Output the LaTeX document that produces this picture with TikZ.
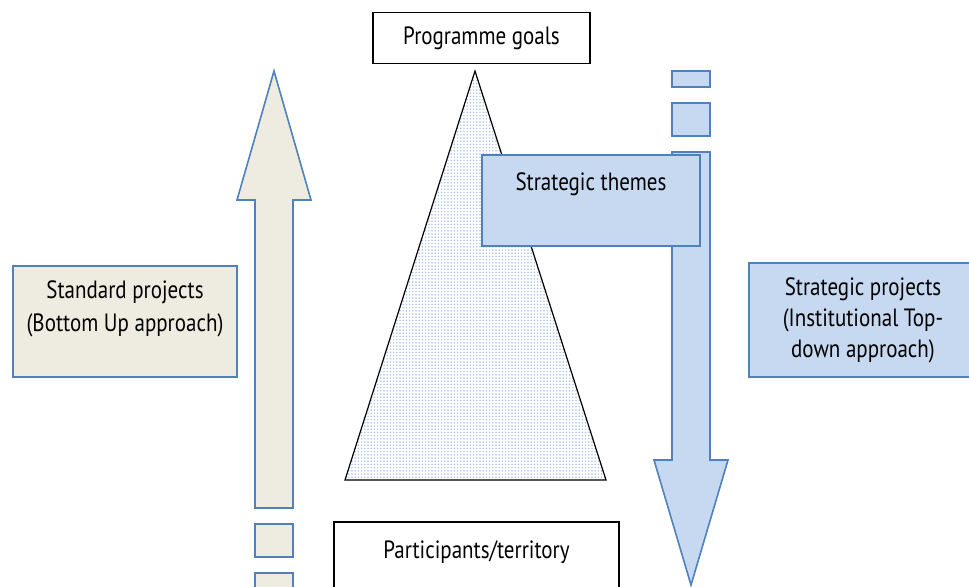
\documentclass[tikz,border=0pt]{standalone}
\usepackage{fontspec}
\setmainfont[FakeStretch=0.84]{PT Sans}
\usetikzlibrary{patterns.meta}
\definecolor{edgeblue}{HTML}{4F81BD}
\definecolor{paleblue}{HTML}{C6D9F1}
\definecolor{beige}{HTML}{EEECE1}
\definecolor{dotblue}{HTML}{A9C0E3}
\tikzset{
	whitebox/.style={draw=black, fill=white, line width=0.8pt, inner sep=0pt},
	bluebox/.style={draw=edgeblue, fill=paleblue, line width=0.8pt, inner sep=0pt},
	beigebox/.style={draw=edgeblue, fill=beige, line width=0.8pt, inner sep=0pt},
	txt/.style={align=center, inner sep=0pt, font=\fontsize{12.5}{16.5}\selectfont}
}

\begin{document}
\begin{tikzpicture}[x=0.5pt,y=-0.5pt]
        \clip (0,0) rectangle (969,586);
        % up arrow and its squares
        \draw[beigebox] (274,71) -- (311,200) -- (293,200) -- (293,508) -- (255,508) -- (255,200) -- (237,200) -- cycle;
        \draw[beigebox] (255,524) rectangle (293,557);
        \draw[beigebox] (255,573) rectangle (293,610);
        % down arrow and its squares
        \draw[bluebox] (672,71) rectangle (710,87);
        \draw[bluebox] (672,103) rectangle (710,136);
        \draw[bluebox] (672,152) -- (710,152) -- (710,460) -- (728,460) -- (691,585) -- (654,460) -- (672,460) -- cycle;
        % triangle
        \draw[line width=0.6pt, preaction={fill=white}, pattern={Dots[radius=0.42pt, distance=1.6pt]}, pattern color=dotblue]
        (475,71) -- (606,480) -- (345,480) -- cycle;
        \node[whitebox, minimum width=108.5pt, minimum height=25.5pt, txt] (goals) at (481.5,38) {Programme goals};
        \node[bluebox, minimum width=109pt, minimum height=45.5pt] (themes) at (591,200.5) {};
        \node[txt] (themestext) at (591,184) {Strategic themes};
        \node[beigebox, minimum width=112pt, minimum height=55.5pt] (standard) at (125,321.5) {};
        \node[txt] (standardtext) at (125,309) {Standard projects\\(Bottom Up approach)};
        \node[bluebox, minimum width=114pt, minimum height=57pt, txt, font=\fontsize{12.5}{15.5}\selectfont] (strategic) at (863,320) {Strategic projects\\(Institutional Top-\\down approach)};
        \node[whitebox, minimum width=142.5pt, minimum height=49pt] (participants) at (476.5,571) {};
        \node[txt] (participantstext) at (476.5,552) {Participants/territory};
\end{tikzpicture}
\end{document}
